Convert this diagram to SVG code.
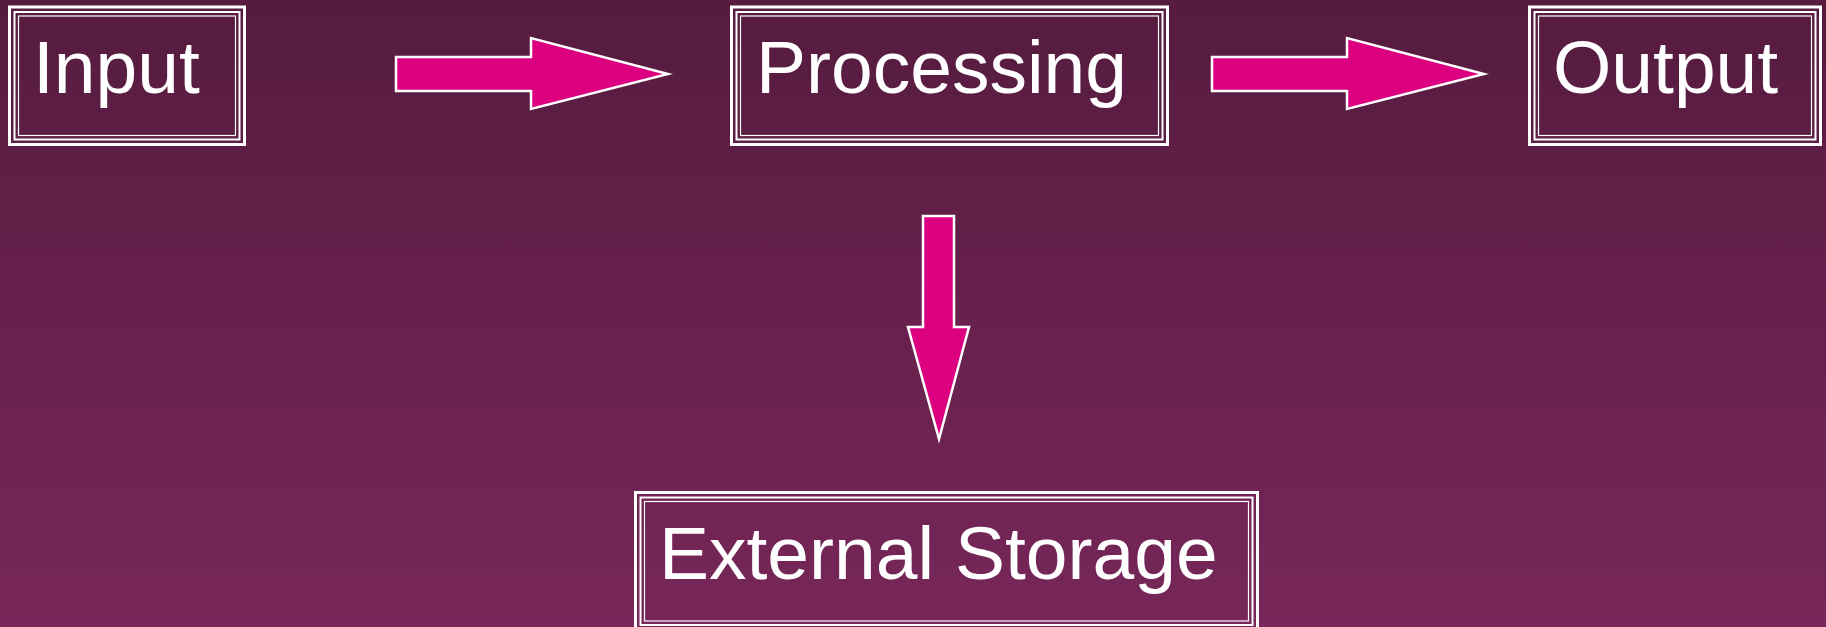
<svg xmlns="http://www.w3.org/2000/svg" width="1826" height="627" viewBox="0 0 1826 627">
<defs>
<linearGradient id="bg" x1="0" y1="0" x2="0" y2="1">
<stop offset="0" stop-color="#561B3F"/>
<stop offset="1" stop-color="#772759"/>
</linearGradient>
<style>
.o{fill:none;stroke:#fff;stroke-width:3}
.m{fill:none;stroke:#fff;stroke-width:2}
.i{fill:none;stroke:#fff;stroke-width:1.2}
.t{font-family:"Liberation Sans",Arial,sans-serif;font-size:75px;fill:#fff}
.a{fill:#DC0080;stroke:#fff;stroke-width:2.5;stroke-linejoin:miter}
</style>
</defs>
<rect width="1826" height="627" fill="url(#bg)"/>
<g id="input">
<rect class="o" x="9.5" y="7" width="235" height="137.5"/>
<rect class="m" x="14.5" y="12" width="225" height="127.5"/>
<rect class="i" x="18.5" y="16" width="217" height="119.5"/>
<text class="t" x="33" y="93">Input</text>
</g>
<g id="processing">
<rect class="o" x="731.5" y="7" width="436" height="137.5"/>
<rect class="m" x="736.5" y="12" width="426" height="127.5"/>
<rect class="i" x="740.5" y="16" width="418" height="119.5"/>
<text class="t" x="756" y="93">Processing</text>
</g>
<g id="output">
<rect class="o" x="1529.5" y="7" width="291" height="137.5"/>
<rect class="m" x="1534.5" y="12" width="281" height="127.5"/>
<rect class="i" x="1538.5" y="16" width="273" height="119.5"/>
<text class="t" x="1553" y="93">Output</text>
</g>
<g id="storage">
<rect class="o" x="635.5" y="492.5" width="622" height="137.5"/>
<rect class="m" x="640.5" y="497.5" width="612" height="127.5"/>
<rect class="i" x="644.5" y="501.5" width="604" height="119.5"/>
<text class="t" x="659" y="579">External Storage</text>
</g>
<g id="connectors">
<path class="a" d="M396,57 L531,57 L531,38 L668,74 L531,109 L531,91 L396,91 Z"/>
<path class="a" d="M1212,57 L1347,57 L1347,38 L1484,74 L1347,109 L1347,91 L1212,91 Z"/>
<path class="a" d="M923,216 L954,216 L954,327 L969,327 L939,439 L908,327 L923,327 Z"/>
</g>
</svg>
